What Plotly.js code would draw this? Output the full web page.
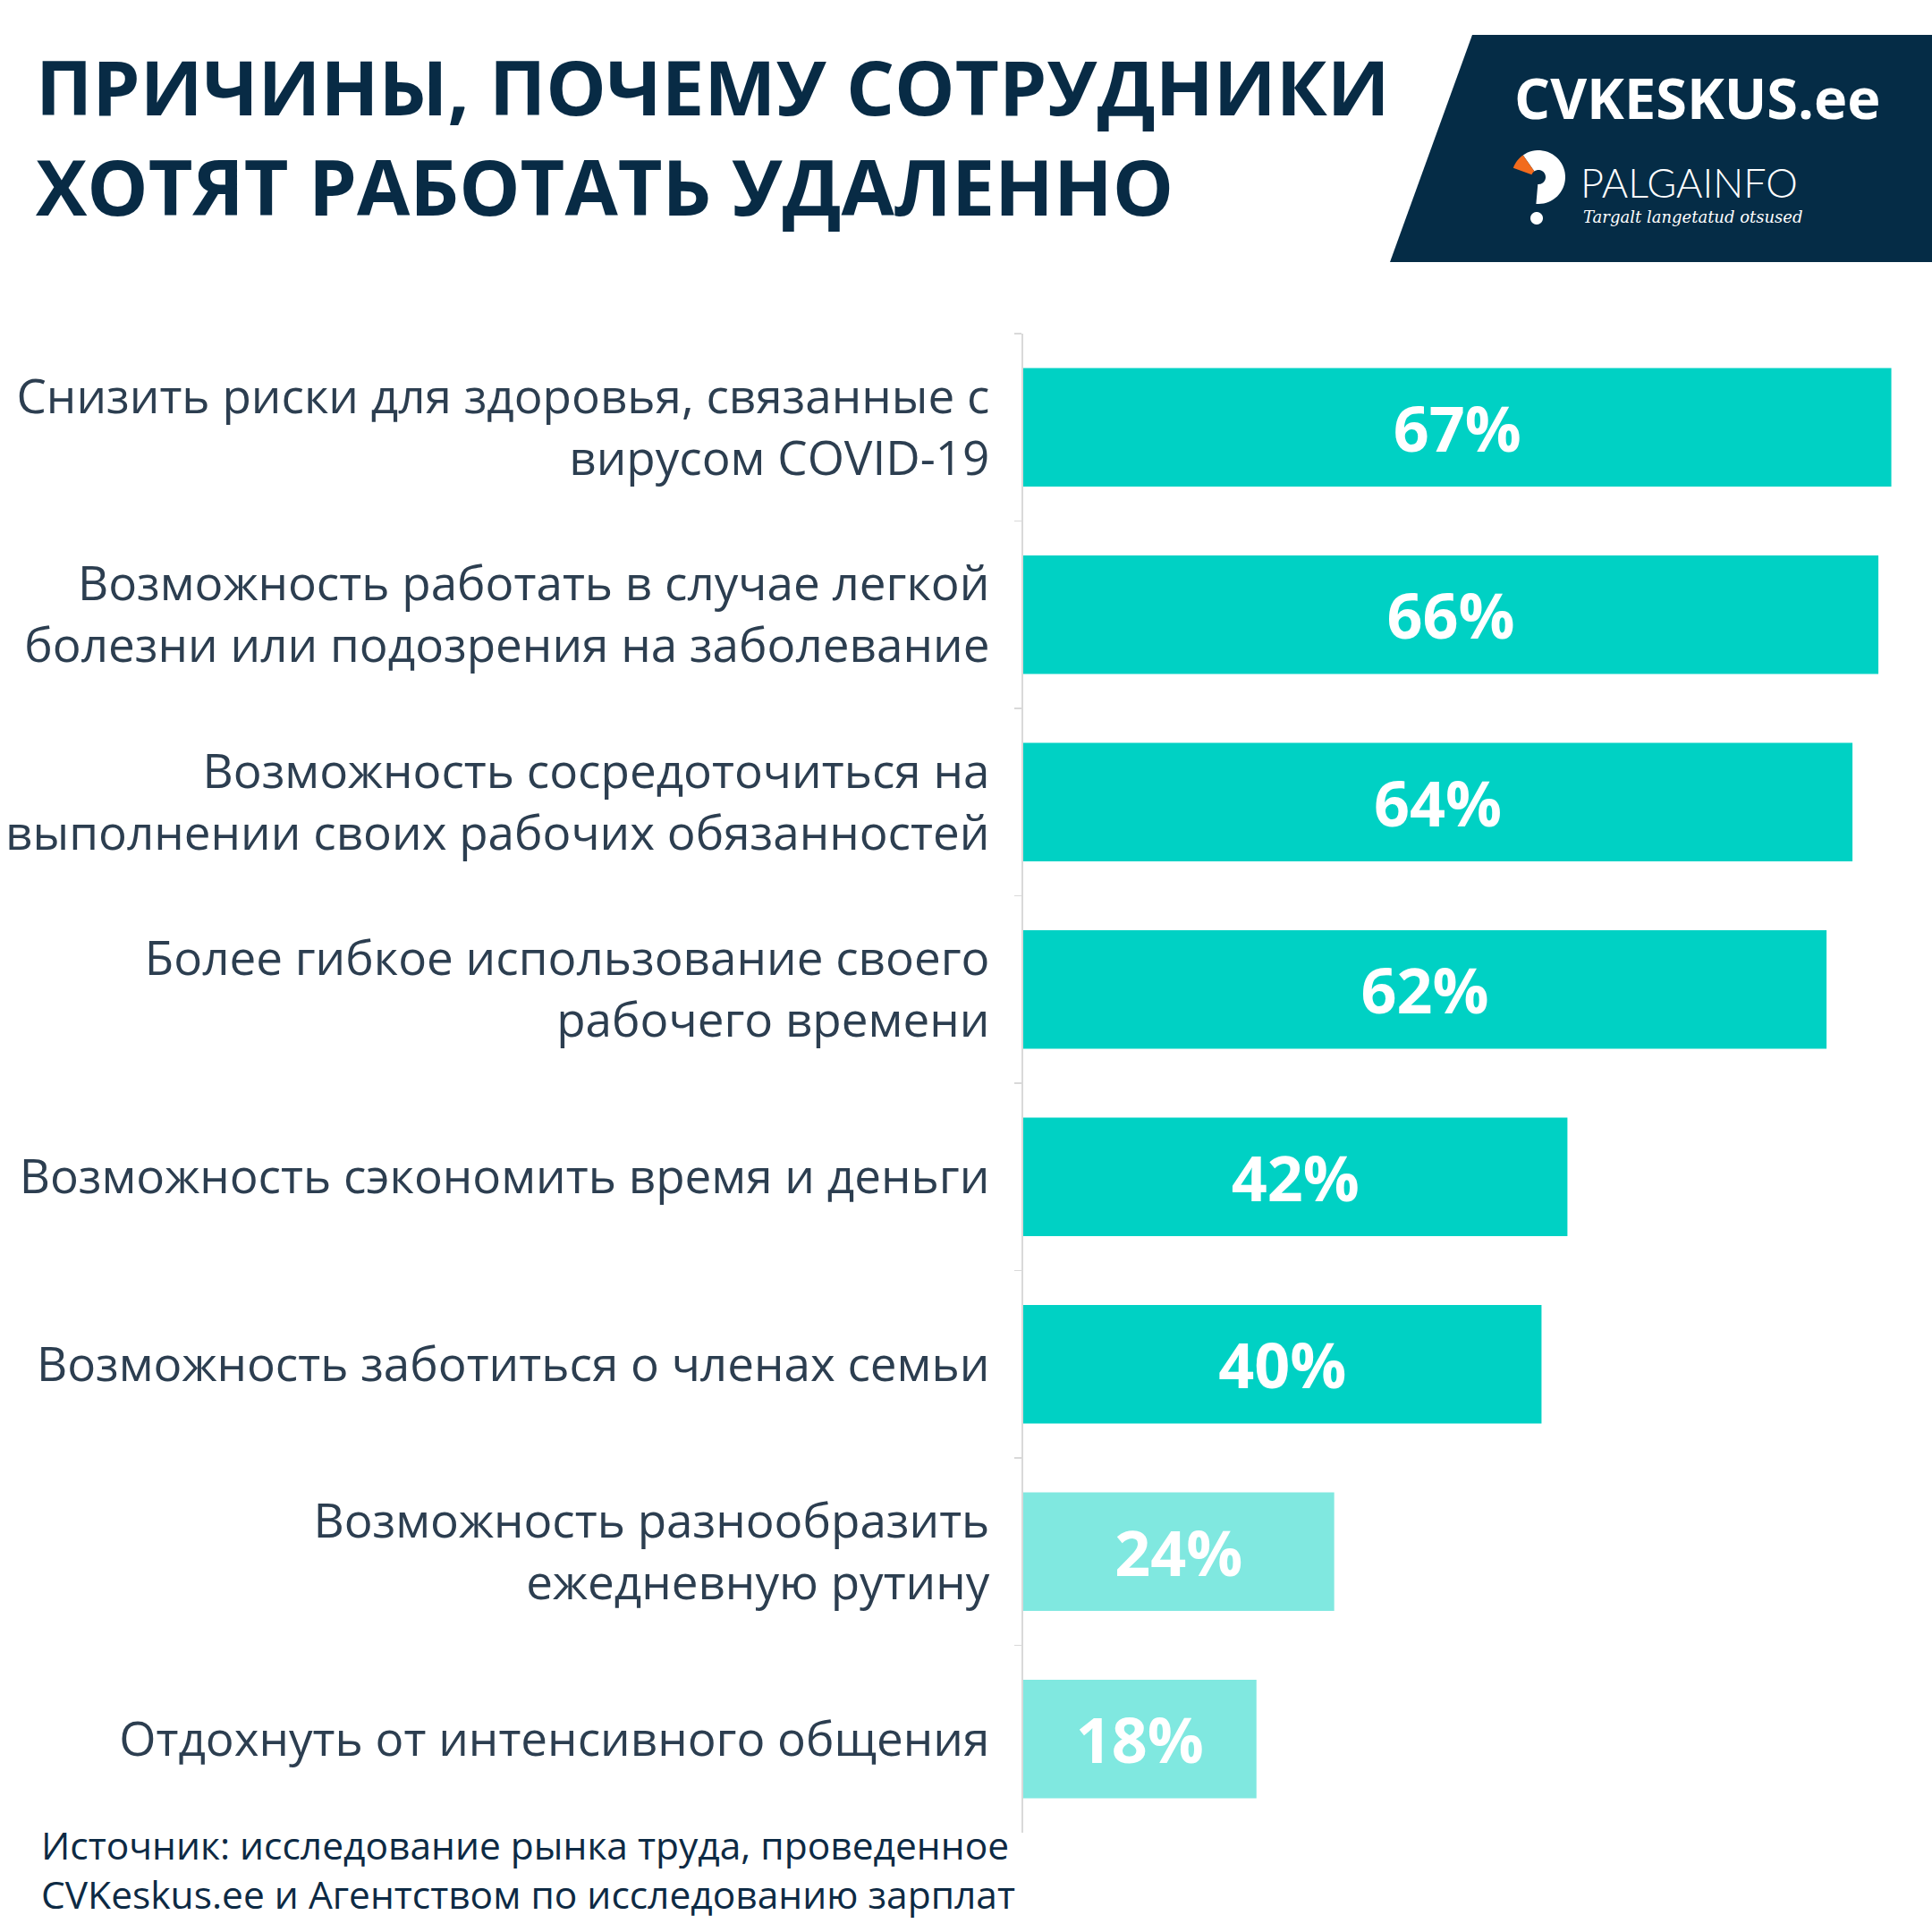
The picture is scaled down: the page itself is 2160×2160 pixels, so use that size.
<!DOCTYPE html>
<html>
<head>
<meta charset="utf-8">
<script src="https://cdn.plot.ly/plotly-3.0.1.min.js"></script>
<style>html,body{margin:0;padding:0;background:#fff;}</style>
</head>
<body>
<div id="chart" style="width:2160px;height:2160px;"></div>
<script>
// ---- data ----
const categories = [
  "Снизить риски для здоровья, связанные с<br>вирусом COVID-19",
  "Возможность работать в случае легкой<br>болезни или подозрения на заболевание",
  "Возможность сосредоточиться на<br>выполнении своих рабочих обязанностей",
  "Более гибкое использование своего<br>рабочего времени",
  "Возможность сэкономить время и деньги",
  "Возможность заботиться о членах семьи",
  "Возможность разнообразить<br>ежедневную рутину",
  "Отдохнуть от интенсивного общения"
];
const values = [67, 66, 64, 62, 42, 40, 24, 18];
const titleLines = ["ПРИЧИНЫ, ПОЧЕМУ СОТРУДНИКИ", "ХОТЯТ РАБОТАТЬ УДАЛЕННО"];
const sourceText = "Источник: исследование рынка труда, проведенное<br>CVKeskus.ee и Агентством по исследованию зарплат";
const logoMain = "CVKESKUS.ee";
const logoSub = "PALGAINFO";
const logoTag = "Targalt langetatud otsused";

// ---- layout geometry ----
const W = 2160, H = 2160;
const M = {l: 1144, r: 2, t: 373, b: 111};
const PW = W - M.l - M.r, PH = H - M.t - M.b;
const px = x => (x - M.l) / PW;
const py = y => (H - M.b - y) / PH;

const DARK = '#00D1C4', LIGHT = '#80E8E0';
const barColors = values.map(v => v >= 30 ? DARK : LIGHT);

const trace = {
  type: 'bar',
  orientation: 'h',
  y: categories,
  x: values,
  marker: {color: barColors, line: {width: 0}},
  texttemplate: '%{x}%',
  textposition: 'inside',
  insidetextanchor: 'middle',
  textangle: 0,
  constraintext: 'none',
  textfont: {family: 'Open Sans', size: 70, color: '#ffffff', weight: 700},
  hoverinfo: 'skip',
  width: 0.632
};

// path helper in pixel coords -> paper
function pathFromPts(pts) {
  return 'M ' + pts.map(p => px(p[0]).toFixed(5) + ',' + py(p[1]).toFixed(5)).join(' L ') + ' Z';
}
function sector(cx, cy, r, a0, a1, rin) {
  const pts = [];
  const n = 40;
  for (let i = 0; i <= n; i++) {
    const a = (a0 + (a1 - a0) * i / n) * Math.PI / 180;
    pts.push([cx + r * Math.cos(a), cy - r * Math.sin(a)]);
  }
  for (let i = n; i >= 0; i--) {
    const a = (a0 + (a1 - a0) * i / n) * Math.PI / 180;
    pts.push([cx + rin * Math.cos(a), cy - rin * Math.sin(a)]);
  }
  return pathFromPts(pts);
}
function circle(cx, cy, r) {
  const pts = [];
  for (let i = 0; i < 48; i++) {
    const a = i / 48 * 2 * Math.PI;
    pts.push([cx + r * Math.cos(a), cy - r * Math.sin(a)]);
  }
  return pathFromPts(pts);
}

const NAVY = '#052C46';
const shapes = [
  {type: 'path', xref: 'paper', yref: 'paper', layer: 'above',
   path: pathFromPts([[1646, 39], [2160, 39], [2160, 293], [1554, 293]]),
   fillcolor: NAVY, line: {width: 0}},
  {type: 'path', xref: 'paper', yref: 'paper', layer: 'above',
   path: sector(1720, 198, 30, -95, 125, 8), fillcolor: '#ffffff', line: {width: 0}},
  {type: 'path', xref: 'paper', yref: 'paper', layer: 'above',
   path: sector(1720, 198, 30, 125, 160, 8), fillcolor: '#F26B1D', line: {width: 0}},
  {type: 'path', xref: 'paper', yref: 'paper', layer: 'above',
   path: circle(1718, 244, 7), fillcolor: '#ffffff', line: {width: 0}}
];

const annotations = [
  {text: '<b>' + titleLines[0] + '</b>', xref: 'paper', yref: 'paper', x: px(38), y: py(96),
   xanchor: 'left', yanchor: 'middle', showarrow: false,
   font: {family: 'Open Sans', size: 85, color: '#082B45'}},
  {text: '<b>' + titleLines[1] + '</b>', xref: 'paper', yref: 'paper', x: px(38), y: py(207),
   xanchor: 'left', yanchor: 'middle', showarrow: false,
   font: {family: 'Open Sans', size: 86, color: '#082B45'}},
  {text: sourceText, xref: 'paper', yref: 'paper', x: px(44), y: py(2090),
   xanchor: 'left', yanchor: 'middle', align: 'left', showarrow: false,
   font: {family: 'Open Sans', size: 42.5, color: '#0D2A44'}},
  {text: '<b>' + logoMain + '</b>', xref: 'paper', yref: 'paper', x: px(1897), y: py(108),
   xanchor: 'center', yanchor: 'middle', showarrow: false,
   font: {family: 'Open Sans', size: 63, color: '#ffffff', weight: 800}},
  {text: logoSub, xref: 'paper', yref: 'paper', x: px(1765), y: py(204),
   xanchor: 'left', yanchor: 'middle', showarrow: false,
   font: {family: 'Lato', size: 45, color: '#ffffff', weight: 300}},
  {text: '<i>' + logoTag + '</i>', xref: 'paper', yref: 'paper', x: px(1768), y: py(242),
   xanchor: 'left', yanchor: 'middle', showarrow: false,
   font: {family: 'DejaVu Serif', size: 18, color: '#ffffff'}}
];

const layout = {
  width: W, height: H,
  margin: M,
  paper_bgcolor: '#ffffff', plot_bgcolor: '#ffffff',
  showlegend: false,
  font: {family: 'Open Sans', color: '#2C3E50'},
  xaxis: {range: [0, 70], visible: false, fixedrange: true},
  yaxis: {
    autorange: 'reversed',
    showline: true, linecolor: '#D9D9D9', linewidth: 2,
    ticks: 'outside', tickson: 'boundaries', ticklen: 8, tickcolor: '#D9D9D9', tickwidth: 1.5,
    showgrid: false, zeroline: false,
    tickfont: {family: 'Open Sans', size: 53, color: '#2C3E50'},
    ticklabelstandoff: 25,
    fixedrange: true
  },
  shapes: shapes,
  annotations: annotations
};

Plotly.newPlot('chart', [trace], layout, {displayModeBar: false, staticPlot: true});
</script>
</body>
</html>
